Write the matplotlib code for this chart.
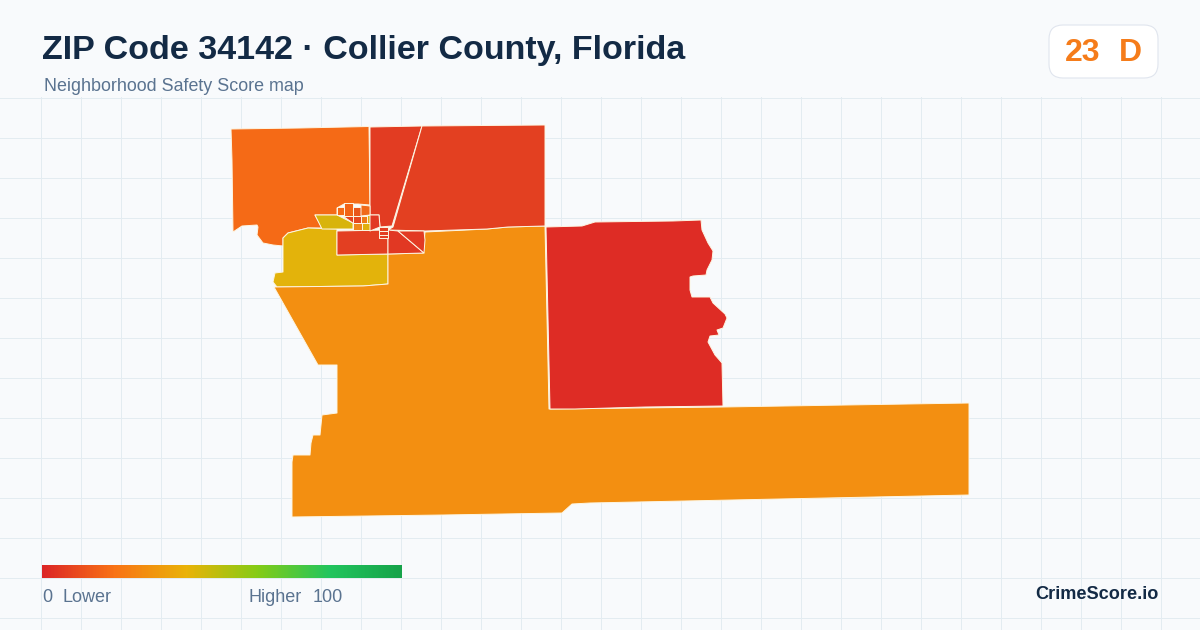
import numpy as np
import matplotlib
matplotlib.use("Agg")
import matplotlib.pyplot as plt
from matplotlib.colors import LinearSegmentedColormap
from matplotlib.patches import FancyBboxPatch, Polygon

plt.rcParams['font.family'] = ['Liberation Sans', 'DejaVu Sans']

BG = '#f8fafc'
GRID = '#e3ecf1'
BORDER = '#fdf6e3'

title = 'ZIP Code 34142 · Collier County, Florida'
subtitle = 'Neighborhood Safety Score map'
score_label = '23'
grade_label = 'D'
brand = 'CrimeScore.io'

# tract outlines in pixels
west_tract = [(231, 129), (300, 128), (369, 126.5), (370, 205), (358, 204), (344, 204), (337, 208),
              (337, 215), (315, 215), (322, 228), (308, 228), (288, 233), (283, 238), (283, 246),
              (273, 245), (263, 243), (257, 235), (258, 227), (257, 225), (242, 226), (233, 232),
              (232, 160)]
gulf_tract = [(288, 233), (308, 228), (337, 229), (337, 255), (388, 254), (388, 284), (363, 286),
              (277, 287), (273, 282), (275, 273), (283, 272), (283, 238)]
coast_tract = [(315, 215), (337, 215), (343, 218), (353, 223), (353, 229), (322, 229)]
main_tract = [(388, 254), (423, 253), (425, 232), (487, 229), (508, 227), (545, 226), (549, 409),
              (723, 407), (969, 403), (969, 495), (590, 503), (572, 504), (562, 513), (443, 515),
              (292, 517), (292, 462), (293, 455), (310, 455), (311, 443), (313, 435), (320, 435),
              (322, 415), (337, 413), (337, 365), (318, 365), (274, 287), (363, 286), (388, 284)]
east_tract = [(546, 227), (582, 226), (595, 222), (673, 221), (701, 220), (702, 230), (708, 243),
              (713, 251), (712, 260), (707, 270), (706, 275), (693, 276), (690, 277), (690, 290),
              (692, 297), (710, 297), (713, 303), (725, 314), (727, 318), (723, 328), (717, 330),
              (719, 335), (710, 336), (708, 342), (715, 355), (722, 363), (723, 406), (645, 407),
              (575, 409), (550, 409)]
north_mid_tract = [(370, 127), (422, 126), (392, 226), (380, 227), (379, 215), (370, 215)]
north_east_tract = [(422, 126), (545, 125), (545, 226), (508, 227), (487, 229), (425, 231),
                    (388, 230), (393, 227)]
south_a_tract = [(337, 231), (388, 230), (388, 254), (337, 255)]
south_b_tract = [(388, 230), (398, 231), (424, 253), (388, 254)]
south_c_tract = [(398, 231), (424, 231), (425, 240), (424, 253)]
town_tracts = [
    [(337, 207), (344, 207), (344, 215), (337, 215)],
    [(344, 203), (353, 203), (353, 216), (344, 216)],
    [(353, 207), (361, 207), (361, 216), (353, 216)],
    [(361, 205), (370, 206), (370, 215), (361, 216)],
    [(343, 216), (353, 216), (353, 223)],
    [(353, 216), (361, 216), (361, 223), (353, 223)],
    [(361, 216), (367, 216), (367, 223), (361, 223)],
    [(367, 215), (370, 215), (370, 223), (367, 223)],
    [(353, 223), (362, 223), (362, 230), (353, 230)],
    [(362, 223), (370, 223), (370, 230), (362, 230)],
    [(370, 215), (379, 215), (380, 227), (370, 231)],
    [(379, 227), (388, 227), (388, 231), (379, 231)],
    [(379, 231), (388, 231), (388, 235), (379, 235)],
    [(379, 235), (388, 235), (388, 238), (379, 238)],
]

tracts = [west_tract, gulf_tract, coast_tract, main_tract, east_tract, north_mid_tract,
          north_east_tract, south_a_tract, south_b_tract, south_c_tract] + town_tracts
tract_colors = ['#f56a16', '#e3b30b', '#d8b40c', '#f38f11', '#de2c25', '#e23c22',
                '#e34021', '#e33f22', '#e13823', '#e23a22'] + \
               ['#f56a16', '#f26416', '#e9561c', '#f06a18', '#e4421f', '#e6481f', '#ef7a16', '#e0b00c',
                '#f0861a', '#e0b00c', '#e13823', '#e33f22', '#e33f22', '#e33f22']

legend_stops = ['#dc2626', '#f97316', '#eab308', '#84cc16', '#22c55e', '#16a34a']
legend_pos = [0, 0.2, 0.4, 0.6, 0.8, 1]

fig = plt.figure(figsize=(12, 6.3), dpi=100, facecolor=BG)
ax = fig.add_axes([0, 0, 1, 1])
ax.set_xlim(0, 1200)
ax.set_ylim(630, 0)
ax.axis('off')

# background grid, only below the header
for x in range(40, 1201, 40):
    ax.plot([x + 0.5, x + 0.5], [97, 630], color=GRID, lw=0.72, zorder=1)
for y in range(97, 630, 40):
    ax.plot([0, 1200], [y + 0.5, y + 0.5], color=GRID, lw=0.72, zorder=1)

for pts, col in zip(tracts, tract_colors):
    ax.add_patch(Polygon(pts, closed=True, facecolor=col, edgecolor=BORDER, lw=0.7, zorder=2,
                         joinstyle='round'))

ax.text(42, 50, title, fontsize=24.45, fontweight='bold', color='#132a45', va='center', ha='left')
ax.text(44, 86.5, subtitle, fontsize=12.9, color='#5a7390', va='center', ha='left')

ax.add_patch(FancyBboxPatch((1049, 25), 109, 53, boxstyle='round,pad=0,rounding_size=14',
                            facecolor='white', edgecolor='#e0e5ee', lw=0.8, zorder=3))
ax.text(1083, 53, score_label, fontsize=23, fontweight='bold', color='#f57c1a', va='center', ha='center', zorder=4)
ax.text(1130, 53, grade_label, fontsize=23, fontweight='bold', color='#f57c1a', va='center', ha='center', zorder=4)

cmap = LinearSegmentedColormap.from_list('score', list(zip(legend_pos, legend_stops)))
ax.imshow(np.linspace(0, 1, 360).reshape(1, -1), cmap=cmap, extent=(42, 402, 578, 565),
          aspect='auto', zorder=3)
ax.set_xlim(0, 1200)
ax.set_ylim(630, 0)

ax.text(42, 597.5, '0', fontsize=13, color='#5a7390', va='center', ha='left')
ax.text(62, 597.5, 'Lower', fontsize=13, color='#5a7390', va='center', ha='left')
ax.text(249, 597.5, 'Higher', fontsize=13, color='#5a7390', va='center', ha='left')
ax.text(313, 597.5, '100', fontsize=13, color='#5a7390', va='center', ha='left')
ax.text(1158.5, 594.5, brand, fontsize=13.1, fontweight='bold', color='#132a45', va='center', ha='right')

fig.savefig('out.png', dpi=100, facecolor=BG)
